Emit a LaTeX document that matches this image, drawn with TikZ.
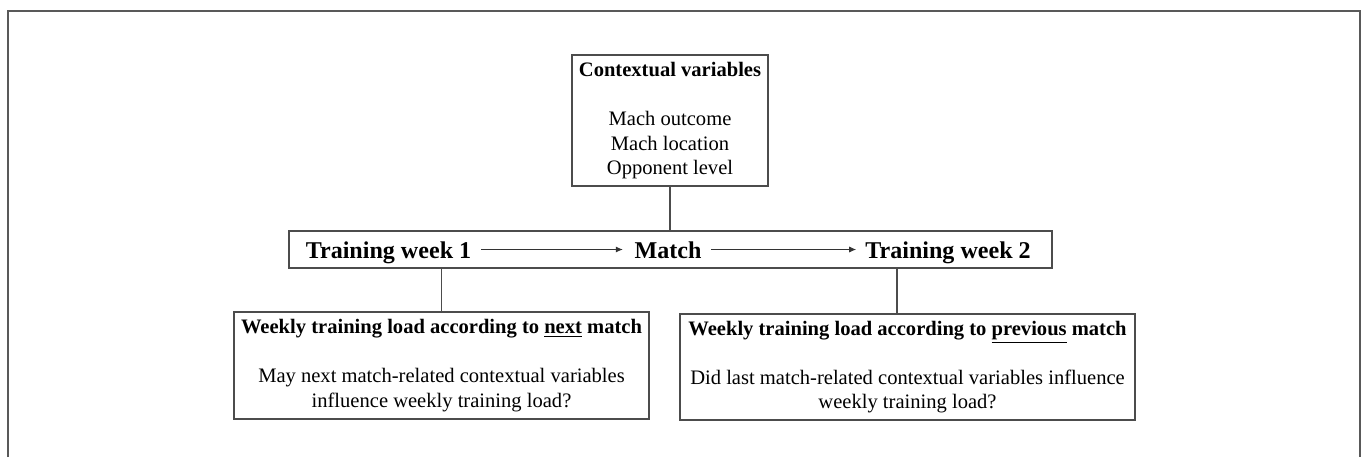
\documentclass[tikz,border=0pt]{standalone}
\usepackage{fontspec}
\setmainfont{Liberation Serif}
\usetikzlibrary{arrows.meta}

\begin{document}
\begin{tikzpicture}[
    box/.style = {draw = black!70, line width = 0.7pt, align = center, inner sep = 2pt,
                  font = \fontsize{11.7}{14}\selectfont},
    stage/.style = {font = \fontsize{13.7}{16}\selectfont\bfseries, anchor = base, inner sep = 0pt},
    flow/.style = {black!80, line width = 0.5pt, -{Latex[length = 4pt, width = 3.5pt]}},
    link/.style = {black!70, line width = 0.7pt},
]
\useasboundingbox (0,0) rectangle (27.34,-9.14);
\draw[black!65, line width = 1pt] (0.16,-9.14) -- (0.16,-0.22) -- (27.2,-0.22) -- (27.2,-9.14);

\node[box, minimum width = 3.92cm, minimum height = 2.62cm] (ctx) at (13.40,-2.41)
    {\textbf{Contextual variables}\\[14pt] Mach outcome\\ Mach location\\ Opponent level};
\node[box, minimum width = 15.26cm, minimum height = 0.74cm] (row) at (13.41,-4.99) {};
\node[stage] (w1) at (7.77,-5.16) {Training week 1};
\node[stage] (m)  at (13.36,-5.16) {Match};
\node[stage] (w2) at (18.96,-5.16) {Training week 2};
\node[box, minimum width = 8.3cm, minimum height = 2.14cm] (nextbox) at (8.83,-7.31)
    {\textbf{Weekly training load according to \underline{next} match}\\[14pt]
     May next match-related contextual variables\\ influence weekly training load?};
\node[box, minimum width = 9.1cm, minimum height = 2.12cm] (prevbox) at (18.15,-7.34)
    {\textbf{Weekly training load according to \underline{previous} match}\\[14pt]
     Did last match-related contextual variables influence\\ weekly training load?};

\draw[flow, shorten < = 5.5pt, shorten > = 6.5pt] (w1.east |- row.center) -- (m.west |- row.center);
\draw[flow, shorten < = 5.5pt, shorten > = 5pt] (m.east |- row.center) -- (w2.west |- row.center);

\draw[link] (ctx.south) -- (ctx.south |- row.north);
\draw[link] (nextbox.north |- row.south) -- (nextbox.north);
\coordinate (hook) at ([xshift = -0.21cm]prevbox.north);
\draw[link] (hook |- row.south) -- (hook);
\end{tikzpicture}
\end{document}
